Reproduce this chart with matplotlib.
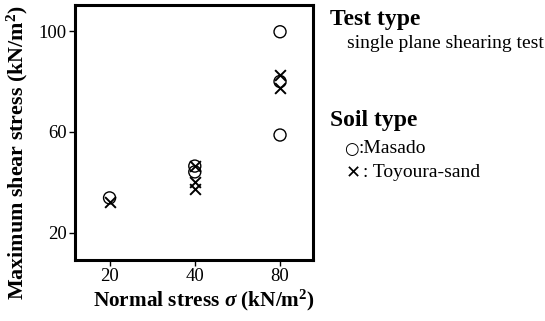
import numpy as np
import matplotlib
matplotlib.use("Agg")
import matplotlib.pyplot as plt

plt.rcParams['font.family'] = ['Liberation Serif', 'DejaVu Serif']
plt.rcParams['mathtext.fontset'] = 'custom'
plt.rcParams['mathtext.rm'] = 'Liberation Serif'
plt.rcParams['mathtext.it'] = 'Liberation Serif:italic'
plt.rcParams['mathtext.bf'] = 'Liberation Serif:bold'
plt.rcParams['mathtext.bfit'] = 'Liberation Serif:bold:italic'

# normal stress levels and measured max shear stress
masado_x = [20, 40, 40, 80, 80, 80]
masado_y = [33.9, 46.5, 44.2, 99.7, 80.0, 58.8]
toyoura_x = [20, 40, 40, 40, 80, 80]
toyoura_y = [32.3, 46.5, 40.2, 37.4, 82.5, 77.4]
xticks = [20, 40, 80]
yticks = [20, 60, 100]

fig = plt.figure(figsize=(5.45, 3.21), dpi=100)
ax = fig.add_axes([75/545, 1-260/321, 238/545, 255/321])

ax.scatter(masado_x, masado_y, s=75, facecolors='none', edgecolors='black', linewidths=1.0, zorder=3)
ax.scatter(toyoura_x, toyoura_y, s=60, marker='x', color='black', linewidths=1.4, zorder=3)

ax.set_xscale('log', base=2)
ax.set_xlim(15.1, 104.6)
ax.set_ylim(9.3, 110.3)
ax.set_xticks(xticks)
ax.set_xticklabels([str(v) for v in xticks])
ax.minorticks_off()
ax.set_yticks(yticks)
ax.tick_params(direction='out', length=4, width=1, labelsize=13.5, pad=2)
for sp in ax.spines.values():
    sp.set_linewidth(2.2)

# axis titles placed by hand (offset from axes centre like the original)
fig.text(204/545, 1-300/321, r'Normal stress $\boldsymbol{\sigma}$ (kN/m$^\mathbf{2}$)',
         fontsize=15.3, fontweight='bold', ha='center', va='center')
fig.text(17/545, 1-153/321, r'Maximum shear stress (kN/m$^\mathbf{2}$)',
         fontsize=15.8, fontweight='bold', ha='center', va='center', rotation=90)

# legend-like notes on the right
fig.text(330/545, 1-19/321, 'Test type', fontsize=17, fontweight='bold', va='center')
fig.text(347/545, 1-44/321, 'single plane shearing test', fontsize=14, va='center')
fig.text(330/545, 1-121/321, 'Soil type', fontsize=17, fontweight='bold', va='center')
fig.text(344/545, 1-149/321, '\u25cb', fontsize=12, va='center', family=['DejaVu Sans'])
fig.text(359/545, 1-149/321, ':Masado', fontsize=14, va='center')
fig.text(346/545, 1-173/321, '\u2715', fontsize=13, va='center', family=['DejaVu Sans'], fontweight='bold')
fig.text(363/545, 1-173/321, ': Toyoura-sand', fontsize=14, va='center')

fig.savefig('out.png', dpi=100)
